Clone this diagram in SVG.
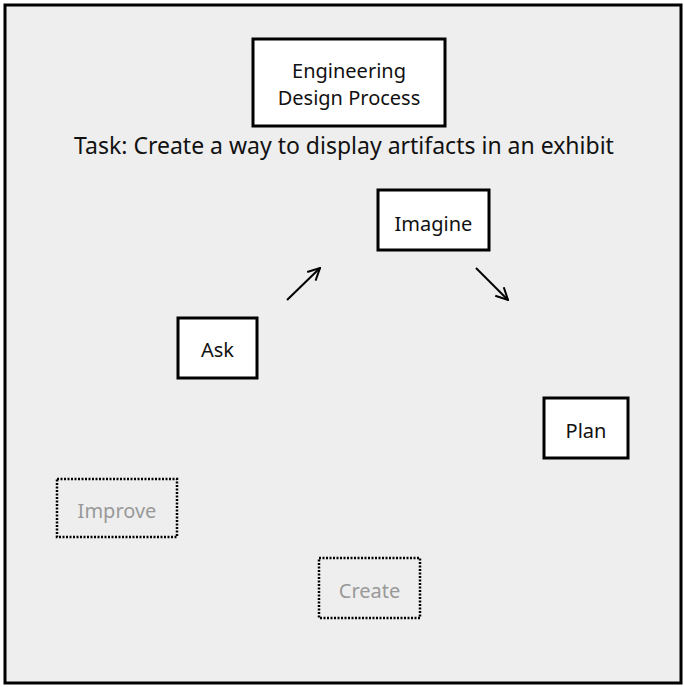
<svg xmlns="http://www.w3.org/2000/svg" width="684" height="687" viewBox="0 0 684 687">
<defs>
<style>
.t{font-family:"Noto Sans","Open Sans","Liberation Sans",sans-serif;font-size:20px;fill:#111;text-anchor:middle}
.big{font-size:23px}
.g{fill:#999}
.box{fill:#fff;stroke:#000;stroke-width:3}
.dot{fill:none;stroke:#000;stroke-width:2.5;stroke-dasharray:2 1.5}
.c{stroke:#000;stroke-width:2;fill:none}
</style>
<marker id="ah" viewBox="0 0 14 14" refX="13" refY="7" markerWidth="14" markerHeight="14" markerUnits="userSpaceOnUse" orient="auto">
<path d="M1 1 L13 7 L1 13" fill="none" stroke="#000" stroke-width="2"/>
</marker>
</defs>
<rect x="5" y="5" width="676" height="678" fill="#eeeeee" stroke="#000" stroke-width="3"/>
<g id="title">
<rect class="box" x="253" y="39" width="192" height="87"/>
<text class="t" x="349" y="78">Engineering</text>
<text class="t" x="349" y="105">Design Process</text>
</g>
<g id="task">
<text class="t big" x="344" y="154">Task: Create a way to display artifacts in an exhibit</text>
</g>
<g id="imagine">
<rect class="box" x="378" y="190" width="111" height="60"/>
<text class="t" x="433.5" y="231">Imagine</text>
</g>
<g id="ask">
<rect class="box" x="178" y="318" width="79" height="60"/>
<text class="t" x="217.5" y="357">Ask</text>
</g>
<g id="plan">
<rect class="box" x="544" y="398" width="84" height="60"/>
<text class="t" x="586" y="438">Plan</text>
</g>
<g id="improve">
<rect class="dot" x="57" y="479" width="120" height="58"/>
<text class="t g" x="117" y="518">Improve</text>
</g>
<g id="create">
<rect class="dot" x="319" y="558" width="101" height="60"/>
<text class="t g" x="369.5" y="598">Create</text>
</g>
<g id="connectors">
<line class="c" x1="287" y1="300" x2="320" y2="268" marker-end="url(#ah)"/>
<line class="c" x1="476" y1="268" x2="508" y2="300" marker-end="url(#ah)"/>
</g>
</svg>
